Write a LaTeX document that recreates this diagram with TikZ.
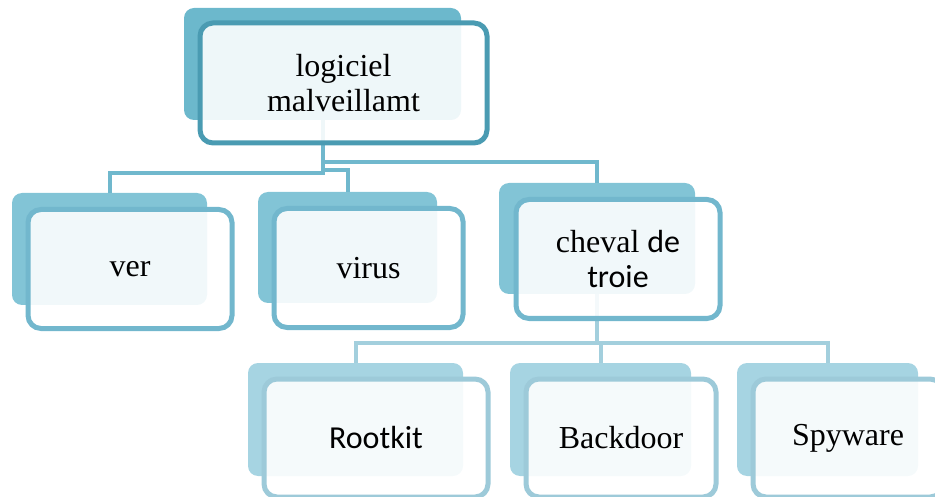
\documentclass[tikz,border=0pt]{standalone}
\usepackage{fontspec}
\setmainfont{Liberation Serif}
\newfontfamily\calib{Carlito}
\usetikzlibrary{positioning,calc}
\definecolor{lvlAback}{HTML}{6CB8CC}
\definecolor{lvlAline}{HTML}{4A9BB2}
\definecolor{lvlBback}{HTML}{82C4D6}
\definecolor{lvlBline}{HTML}{72B7CD}
\definecolor{lvlCback}{HTML}{A6D4E2}
\definecolor{lvlCline}{HTML}{9DCAD9}
\definecolor{linkA}{HTML}{70B8CD}
\definecolor{linkB}{HTML}{A3CFDD}

\begin{document}
\begin{tikzpicture}[x=1pt,y=-1pt,
    back/.style={rounded corners=10pt,inner sep=0pt},
    front/.style={rounded corners=13pt,line width=5pt,fill=white,fill opacity=0.89,
      text opacity=1,inner sep=0pt,align=center,font=\fontsize{32}{35}\selectfont},
    backA/.style={back,fill=lvlAback},
    backB/.style={back,fill=lvlBback},
    backC/.style={back,fill=lvlCback},
    frontA/.style={front,draw=lvlAline},
    frontB/.style={front,draw=lvlBline},
    frontC/.style={front,draw=lvlCline},
    linkAs/.style={line width=4pt,linkA},
    linkBs/.style={line width=4pt,linkB}]
    \useasboundingbox (0,0) rectangle (935,497);
    % back cards
    \node[backA,minimum width=277pt,minimum height=112pt] (rootB) at (322.5,64) {};
    \node[backB,minimum width=195pt,minimum height=112pt] (verB) at (109.5,249) {};
    \node[backB,minimum width=179pt,minimum height=111pt] (virusB) at (347.5,247.5) {};
    \node[backB,minimum width=196pt,minimum height=111pt] (trojB) at (597,238.5) {};
    \node[backC,minimum width=215pt,minimum height=113pt] (kitB) at (355.5,419.5) {};
    \node[backC,minimum width=181pt,minimum height=113pt] (doorB) at (600.5,419.5) {};
    \node[backC,minimum width=181pt,minimum height=113pt] (spyB) at (827.5,419.5) {};
    % connectors
    \draw[linkAs] (rootB.south) -- ++(0,53) -| (verB.north);
    \draw[linkAs] (rootB.south) -- ++(0,50) -| (virusB.north);
    \draw[linkAs] (rootB.south) -- ++(0,42) -| (trojB.north);
    \draw[linkBs] (trojB.south) -- ++(0,49) -| (kitB.north);
    \draw[linkBs] (trojB.south) -- ++(0,49) -| (doorB.north);
    \draw[linkBs] (trojB.south) -- ++(0,49) -| (spyB.north);
    % front cards
    \node[frontA,minimum width=287pt,minimum height=120pt] (root) at (343.5,83) {logiciel\\malveillamt};
    \node[frontB,minimum width=204pt,minimum height=119pt] (ver) at (130,269) {ver};
    \node[frontB,minimum width=189pt,minimum height=119pt] (virus) at (368.5,268) {virus};
    \node[frontB,minimum width=204pt,minimum height=119pt] (troj) at (618,259) {cheval {\calib de}\\{\calib troie}};
    \node[frontC,minimum width=224pt,minimum height=118pt] (kit) at (376,438) {{\calib Rootkit}};
    \node[frontC,minimum width=190pt,minimum height=118pt] (door) at (621,438) {Backdoor};
    \node[frontC,minimum width=190pt,minimum height=118pt] (spy) at (848,438) {Spyware};
\end{tikzpicture}
\end{document}
